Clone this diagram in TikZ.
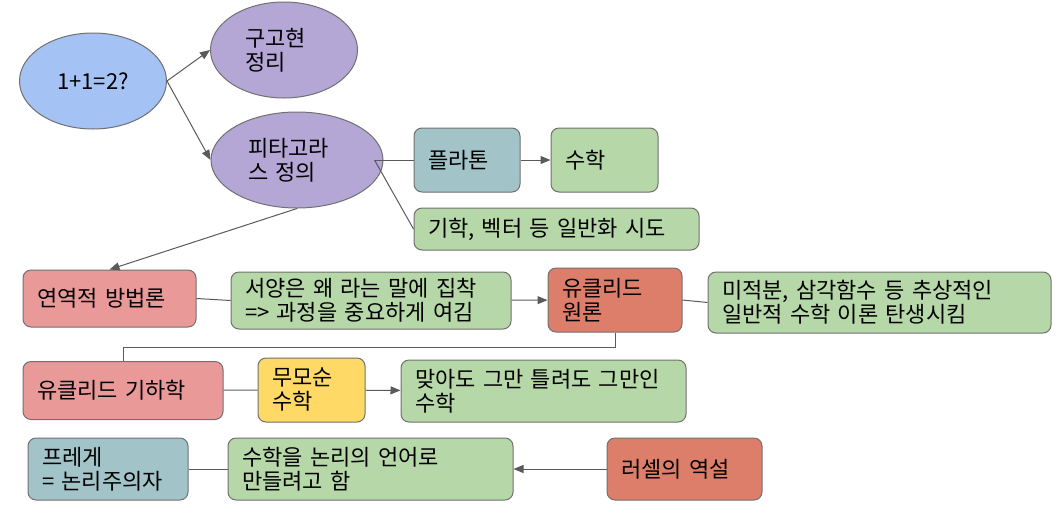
\documentclass[tikz,border=0pt]{standalone}
\usepackage{fontspec}
\setmainfont{Noto Sans CJK KR}
\usepackage{xcolor}
\usepackage{tikz}
\usetikzlibrary{arrows.meta,shapes.geometric}
\definecolor{mathblue}{HTML}{A4C2F4}
\definecolor{mathpurple}{HTML}{B4A7D6}
\definecolor{mathteal}{HTML}{A2C4C9}
\definecolor{mathgreen}{HTML}{B6D7A8}
\definecolor{mathpink}{HTML}{EA9999}
\definecolor{mathred}{HTML}{DD7E6B}
\definecolor{mathyellow}{HTML}{FFD966}
\definecolor{mathborder}{HTML}{707070}
\definecolor{mathline}{HTML}{5A5A5A}

\begin{document}
\begin{tikzpicture}[
  x=1pt,y=-1pt,
  font=\fontsize{22}{24}\selectfont,
  oval/.style={ellipse,draw=mathborder,line width=1pt,minimum height=96pt,align=left},
  box/.style={rounded corners=8pt,draw=mathborder,line width=1pt,align=left,inner xsep=14pt,inner ysep=3pt},
  arr/.style={-{Triangle[length=10pt,width=8pt]},draw=mathline,line width=1pt},
  ln/.style={draw=mathline,line width=1pt}
]
\useasboundingbox (0,0) rectangle (1059,523);

\node[oval,fill=mathblue,minimum width=147pt] (question) at (93,81) {1+1=2?};
\node[oval,fill=mathpurple,minimum width=147pt,text width=78pt] (gugohyeon) at (284,50) {구고현\\정리};
\node[oval,fill=mathpurple,minimum width=172pt,text width=98pt] (pythagoras) at (297,160) {피타고라\\스 정의};

\node[box,fill=mathteal,minimum width=106pt,minimum height=64pt,text width=78pt] (plato) at (467,160) {플라톤};
\node[box,fill=mathgreen,minimum width=107pt,minimum height=64pt,text width=79pt] (suhak) at (604.5,160) {수학};
\node[box,fill=mathgreen,minimum width=285pt,minimum height=42pt,text width=257pt] (general) at (556.5,229) {기학, 벡터 등 일반화 시도};

\node[box,fill=mathpink,minimum width=173pt,minimum height=57pt,text width=145pt] (deduct) at (109.5,298.5) {연역적 방법론};
\node[box,fill=mathgreen,minimum width=280pt,minimum height=57pt,text width=252pt] (why) at (371,300.5) {서양은 왜 라는 말에 집착\\=> 과정을 중요하게 여김};
\node[box,fill=mathred,minimum width=134pt,minimum height=64pt,text width=106pt] (elements) at (615,300) {유클리드\\원론};
\node[box,fill=mathgreen,minimum width=343pt,minimum height=61pt,text width=315pt] (calculus) at (879.5,302.5) {미적분, 삼각함수 등 추상적인\\일반적 수학 이론 탄생시킴};

\node[box,fill=mathpink,minimum width=200pt,minimum height=58pt,text width=172pt] (euclid) at (123,390.5) {유클리드 기하학};
\node[box,fill=mathyellow,minimum width=107pt,minimum height=64pt,text width=79pt] (consistent) at (311.5,390) {무모순\\수학};
\node[box,fill=mathgreen,minimum width=285pt,minimum height=62pt,text width=257pt] (either) at (543.5,391) {맞아도 그만 틀려도 그만인\\수학};

\node[box,fill=mathteal,minimum width=160pt,minimum height=62pt,text width=132pt] (frege) at (108,469) {프레게\\= 논리주의자};
\node[box,fill=mathgreen,minimum width=285pt,minimum height=62pt,text width=257pt] (logic) at (370.5,469) {수학을 논리의 언어로\\만들려고 함};
\node[box,fill=mathred,minimum width=155pt,minimum height=62pt,text width=127pt] (russell) at (684.5,469) {러셀의 역설};

\coordinate (split) at ([xshift=-9pt]pythagoras.east);

\draw[arr] (question.east) -- (gugohyeon.west);
\draw[arr] (question.east) -- (pythagoras.west);
\draw[ln] (split) -- (plato.west);
\draw[ln] (split) -- (general.west);
\draw[arr] (plato) -- (suhak);
\draw[arr] (pythagoras.south) -- (deduct.north);
\draw[ln] (deduct.east) -- (why.west);
\draw[arr] (why) -- (elements);
\draw[ln] (elements.east) -- (calculus.west);
\draw[ln] (elements.south) -- ++(0,15) -| (euclid.north);
\draw[ln] (euclid) -- (consistent);
\draw[arr] (consistent) -- (either);
\draw[ln] (frege) -- (logic);
\draw[arr] (russell) -- (logic);
\end{tikzpicture}
\end{document}
